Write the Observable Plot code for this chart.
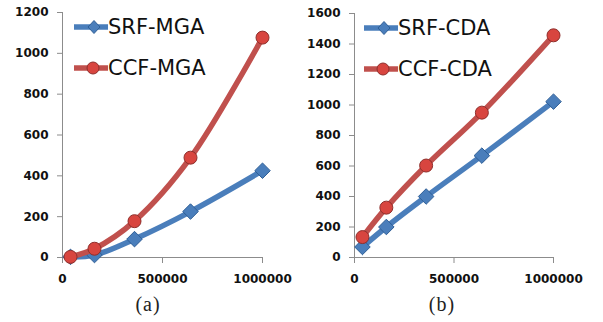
<!DOCTYPE html>
<html><head><meta charset="utf-8">
<script src="https://cdn.jsdelivr.net/npm/d3@7"></script>
<script src="https://cdn.jsdelivr.net/npm/@observablehq/plot@0.6"></script>
<style>
body{margin:0;background:#fff;width:603px;height:322px;overflow:hidden;position:relative}
.panel{position:absolute;top:0}
.cap{position:absolute;top:293px;font-family:"Liberation Serif","DejaVu Serif",serif;font-size:20px;letter-spacing:1px;color:#222;transform:translateX(-50%)}
.leg{position:absolute;font-family:"DejaVu Sans",sans-serif;font-size:21px;color:#111;display:flex;align-items:center;white-space:nowrap}
.leg svg{margin-right:0px}
g[aria-label="y-axis tick label"]{fill:#111}
g[aria-label="y-axis tick"] path,g[aria-label="x-axis tick"] path{stroke:#8c8c8c}
</style></head><body>
<div id="pa" class="panel" style="left:0"></div>
<div id="pb" class="panel" style="left:300px"></div>
<div class="cap" style="left:148px">(a)</div>
<div class="cap" style="left:442px">(b)</div>
<script>
const xValues = [40000, 160000, 360000, 640000, 1000000];
const srfMGA = [3, 12, 90, 225, 425];
const ccfMGA = [3, 43, 178, 489, 1077];
const srfCDA = [69, 200, 400, 668, 1022];
const ccfCDA = [134, 327, 603, 950, 1457];
const namesA = ["SRF-MGA", "CCF-MGA"];
const namesB = ["SRF-CDA", "CCF-CDA"];
const xTicks = [0, 500000, 1000000];
const yTicksA = [0, 200, 400, 600, 800, 1000, 1200];
const yTicksB = [0, 200, 400, 600, 800, 1000, 1200, 1400, 1600];

const BLUE = "#4a7ebb", BLUE_D = "#2f5f96", RED = "#c0504d", RED_D = "#8e2f2c", RED_F = "#d8453f";

function rows(vals) { return xValues.map((x, i) => ({x, y: vals[i]})); }

function panel({width, marginLeft, marginRight, marginTop, yMax, yTicks, blue, red}) {
  const b = rows(blue), r = rows(red);
  return Plot.plot({
    width, height: 290, marginLeft, marginRight, marginTop, marginBottom: 33,
    style: {fontFamily: "DejaVu Sans, sans-serif", fontSize: "12px", fontWeight: "bold", background: "transparent", overflow: "visible"},
    x: {domain: [0, 1000000]},
    y: {domain: [0, yMax]},
    marks: [
      Plot.ruleY([0], {stroke: "#8c8c8c", strokeWidth: 1}),
      Plot.ruleX([0], {stroke: "#8c8c8c", strokeWidth: 1}),
      Plot.axisY({ticks: yTicks, tickFormat: d => String(d), tickSize: 5, tickPadding: 9, label: null}),
      Plot.axisX({ticks: xTicks, tickFormat: () => "", tickSize: 6, label: null}),
      Plot.text(xTicks, {x: d => d, text: d => String(d), frameAnchor: "bottom", lineAnchor: "middle", dy: 22, fill: "#111"}),
      Plot.line(b, {x: "x", y: "y", stroke: BLUE, strokeWidth: 5.5, curve: "catmull-rom"}),
      Plot.dot(b, {x: "x", y: "y", symbol: "diamond2", r: 7, fill: BLUE, stroke: BLUE_D, strokeWidth: 1}),
      Plot.line(r, {x: "x", y: "y", stroke: RED, strokeWidth: 5.5, curve: "catmull-rom"}),
      Plot.dot(r, {x: "x", y: "y", symbol: "circle", r: 6.5, fill: RED_F, stroke: RED_D, strokeWidth: 1})
    ]
  });
}

document.getElementById("pa").append(panel({width: 300, marginLeft: 62, marginRight: 38, marginTop: 12, yMax: 1200, yTicks: yTicksA, blue: srfMGA, red: ccfMGA}));
document.getElementById("pb").append(panel({width: 303, marginLeft: 54, marginRight: 50, marginTop: 13, yMax: 1600, yTicks: yTicksB, blue: srfCDA, red: ccfCDA}));

function legItem(left, top, name, kind) {
  const d = document.createElement("div");
  d.className = "leg";
  d.style.left = left + "px";
  d.style.top = (top - 13) + "px";
  const marker = kind === "blue"
    ? `<path d="M20,2.5 L26,9 L20,15.5 L14,9 Z" fill="${BLUE}" stroke="${BLUE_D}"/>`
    : `<circle cx="19" cy="9" r="6" fill="${RED_F}" stroke="${RED_D}"/>`;
  d.innerHTML = `<svg width="34" height="18"><line x1="1" x2="34" y1="9" y2="9" stroke="${kind === "blue" ? BLUE : RED}" stroke-width="5.5" stroke-linecap="round"/>${marker}</svg><span>${name}</span>`;
  document.body.append(d);
}
legItem(74, 28, namesA[0], "blue");
legItem(74, 69, namesA[1], "red");
legItem(364, 29, namesB[0], "blue");
legItem(364, 70, namesB[1], "red");
</script>
</body></html>
